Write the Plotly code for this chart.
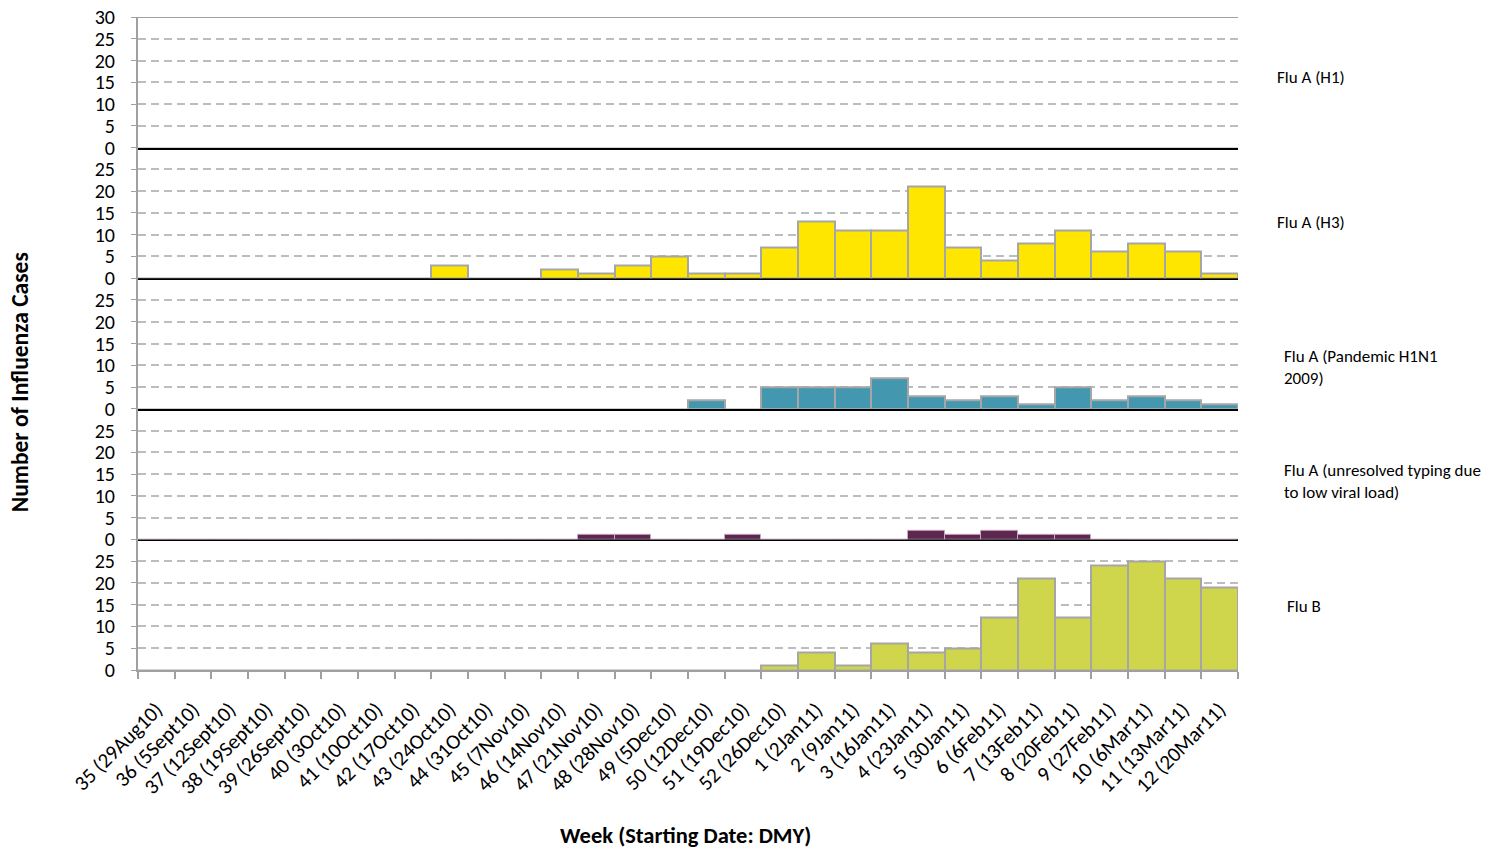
import plotly.graph_objects as go
from plotly.subplots import make_subplots

weeks = ["35 (29Aug10)", "36 (5Sept10)", "37 (12Sept10)", "38 (19Sept10)", "39 (26Sept10)",
         "40 (3Oct10)", "41 (10Oct10)", "42 (17Oct10)", "43 (24Oct10)", "44 (31Oct10)",
         "45 (7Nov10)", "46 (14Nov10)", "47 (21Nov10)", "48 (28Nov10)", "49 (5Dec10)",
         "50 (12Dec10)", "51 (19Dec10)", "52 (26Dec10)", "1 (2Jan11)", "2 (9Jan11)",
         "3 (16Jan11)", "4 (23Jan11)", "5 (30Jan11)", "6 (6Feb11)", "7 (13Feb11)",
         "8 (20Feb11)", "9 (27Feb11)", "10 (6Mar11)", "11 (13Mar11)", "12 (20Mar11)"]

flu_a_h1 = [0] * 30
flu_a_h3 = [0, 0, 0, 0, 0, 0, 0, 0, 3, 0, 0, 2, 1, 3, 5, 1, 1, 7, 13, 11,
            11, 21, 7, 4, 8, 11, 6, 8, 6, 1]
flu_a_pandemic = [0, 0, 0, 0, 0, 0, 0, 0, 0, 0, 0, 0, 0, 0, 0, 2, 0, 5, 5, 5,
                  7, 3, 2, 3, 1, 5, 2, 3, 2, 1]
flu_a_unresolved = [0, 0, 0, 0, 0, 0, 0, 0, 0, 0, 0, 0, 1, 1, 0, 0, 1, 0, 0, 0,
                    0, 2, 1, 2, 1, 1, 0, 0, 0, 0]
flu_b = [0, 0, 0, 0, 0, 0, 0, 0, 0, 0, 0, 0, 0, 0, 0, 0, 0, 1, 4, 1,
         6, 4, 5, 12, 21, 12, 24, 25, 21, 19]

series_names = ["Flu A (H1)", "Flu A (H3)", "Flu A (Pandemic H1N1<br>2009)",
                "Flu A (unresolved typing due<br>to low viral load)", "Flu B"]
series_values = [flu_a_h1, flu_a_h3, flu_a_pandemic, flu_a_unresolved, flu_b]
colors = ["#FFE600", "#FFE600", "#4397AF", "#5E2750", "#CFD64B"]
line_colors = ["#A6A6A6", "#A6A6A6", "#A6A6A6", "#C9A8C0", "#A6A6A6"]
line_widths = [2, 2, 2, 1, 2]

FONT = "Carlito, Lato, sans-serif"
GREY = "#A0A0A0"

fig = make_subplots(rows=5, cols=1, shared_xaxes=True, vertical_spacing=0)

for i, vals in enumerate(series_values):
    fig.add_trace(go.Bar(x=weeks, y=vals, marker=dict(color=colors[i],
                         line=dict(color=line_colors[i], width=line_widths[i])),
                         showlegend=False, name=series_names[i]), row=i + 1, col=1)

for i in range(5):
    r = i + 1
    tv = [0, 5, 10, 15, 20, 25, 30] if r == 1 else [0, 5, 10, 15, 20, 25]
    fig.update_yaxes(row=r, col=1, range=[0, 30], tickvals=tv, showgrid=True,
                     gridcolor="#BDBDBD", griddash="8px,5px", gridwidth=1.5,
                     showline=True, linecolor=GREY, linewidth=2, ticks="outside",
                     ticklen=5, tickcolor=GREY, zeroline=False, automargin=False,
                     ticklabeloverflow="allow",
                     tickfont=dict(family=FONT, size=20, color="black"),
                     ticklabelstandoff=12, fixedrange=True)
    if r < 5:
        fig.update_xaxes(row=r, col=1, type="category", showline=True,
                         linecolor="black", linewidth=2, showgrid=False, automargin=False,
                         ticks="", showticklabels=False, layer="below traces")
    else:
        fig.update_xaxes(row=r, col=1, type="category", showline=True,
                         linecolor=GREY, linewidth=2, showgrid=False, automargin=False,
                         ticks="outside", tickson="boundaries", ticklen=7,
                         tickcolor=GREY, tickwidth=2, tickangle=-45,
                         ticklabelstandoff=17, ticklabeloverflow="allow",
                         tickfont=dict(family=FONT, size=21, color="black"),
                         layer="below traces")

# grey top border of the top panel
fig.add_shape(type="line", xref="x domain", yref="y", x0=0, x1=1, y0=30, y1=30,
              line=dict(color=GREY, width=2))

label_pos = [(1.0336, 0.9066), (1.0336, 0.686), (1.04, 0.4625), (1.04, 0.288), (1.0427, 0.098)]
for (ax, ay), name in zip(label_pos, series_names):
    fig.add_annotation(text=name, xref="paper", yref="paper", x=ax, y=ay,
                       xanchor="left", yanchor="middle", align="left", showarrow=False,
                       font=dict(family=FONT, size=17, color="black"))

fig.add_annotation(text="<b>Number of Influenza Cases</b>", xref="paper", yref="paper",
                   x=-0.107, y=0.441, textangle=-90, showarrow=False,
                   xanchor="center", yanchor="middle",
                   font=dict(family=FONT, size=23.5, color="black"))
fig.add_annotation(text="<b>Week (Starting Date: DMY)</b>", xref="paper", yref="paper",
                   x=0.498, y=-0.254, showarrow=False, xanchor="center", yanchor="middle",
                   font=dict(family=FONT, size=22.5, color="black"))

fig.update_layout(width=1499, height=850, margin=dict(l=138, r=261, t=17, b=180, autoexpand=False),
                  plot_bgcolor="white", paper_bgcolor="white", bargap=0,
                  font=dict(family=FONT, color="black"))

# remove the browser's default 8px body margin so the figure fills the window exactly
fig.write_html("out.html", config={"displayModeBar": False},
               post_script="document.body.style.margin='0';document.body.style.overflow='hidden';")
